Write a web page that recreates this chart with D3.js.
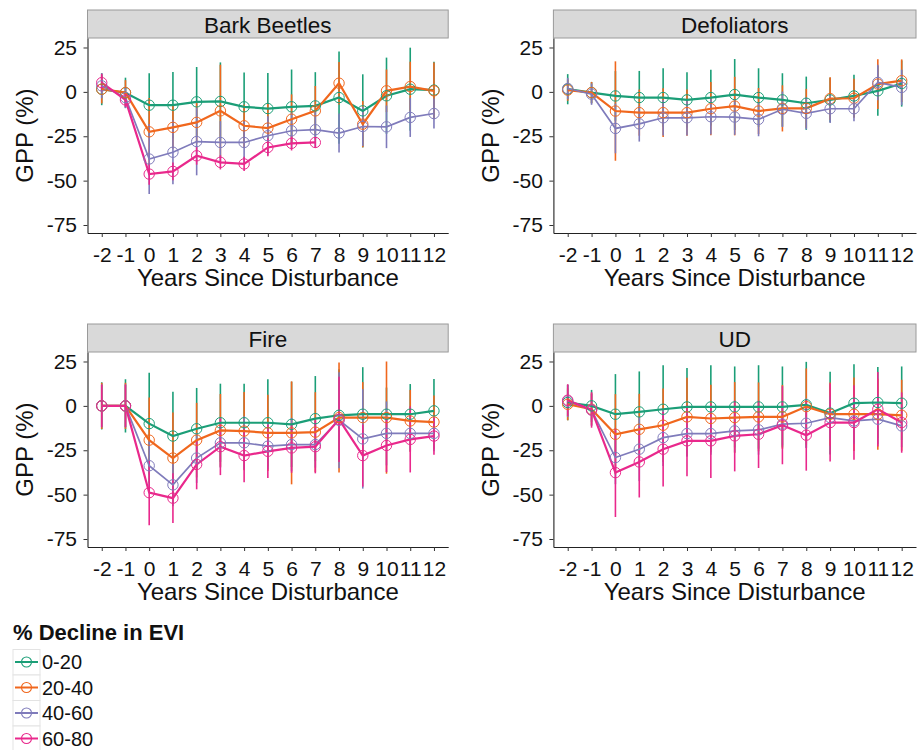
<!DOCTYPE html>
<html>
<head>
<meta charset="utf-8">
<script src="https://cdn.jsdelivr.net/npm/d3@7"></script>
<style>
  body { margin: 0; background: #fff; }
  svg { display: block; font-family: "Liberation Sans", Arial, sans-serif; }
</style>
</head>
<body>
<svg id="chart" width="923" height="750"></svg>
<script>
// ---------- data ----------
const years = [-2, -1, 0, 1, 2, 3, 4, 5, 6, 7, 8, 9, 10, 11, 12];
const yTicks = [25, 0, -25, -50, -75];
const classes = ["0-20", "20-40", "40-60", "60-80"];
const colors = ["#1b9e77", "#f0671d", "#7f7bbb", "#e9288c"];
const panelNames = ["Bark Beetles", "Defoliators", "Fire", "UD"];

// Bark Beetles
const bb_0_20 = [1.5, -0.5, -7.5, -7.5, -5.6, -5.4, -8.4, -9.4, -8.4, -7.9, -3.2, -10.7, -2.2, 1.5, 1];
const bb_0_20_err = [9, 8.5, 18, 18.7, 19.6, 22, 19.3, 20, 21, 19, 26, 20.6, 21.5, 23.4, 16];
const bb_20_40 = [1.5, -0.4, -22.5, -20, -17.2, -10.7, -19.1, -20.4, -15.4, -10.7, 4.9, -18.2, 0.6, 3, 0.6];
const bb_20_40_err = [8, 7, 19, 12, 12, 26, 12, 14, 14, 14, 12, 13, 12, 14, 16];
const bb_40_60 = [3.4, -3.2, -37.8, -34, -28, -28.5, -28.5, -24.7, -21.9, -21.3, -23.2, -19.5, -19.7, -14.4, -12.2];
const bb_40_60_err = [7, 6, 19.7, 18, 19, 12, 12, 11, 10, 10, 11, 11, 12, 11, 8.5];
const bb_60_80 = [5.2, -4.5, -46.3, -44.8, -36, -39.7, -40.6, -31.3, -29, -28.5, null, null, null, null, null];
const bb_60_80_err = [5, 4, 6, 5, 5, 4, 4, 5, 4, 3, null, null, null, null, null];

// Defoliators
const df_0_20 = [1.5, -0.4, -2.3, -3.2, -3.2, -4.5, -3.2, -1.5, -3.2, -4.5, -6.4, -4.5, -2.3, 0.6, 4.7];
const df_0_20_err = [8.5, 6, 14, 15, 16.5, 15.5, 15.7, 20, 16.5, 15, 15, 12.5, 12, 14, 13];
const df_20_40 = [1, -0.4, -10.8, -11.7, -11.7, -11.7, -9.5, -8, -10.8, -9.3, -9.3, -3.8, -3.6, 4.4, 6.3];
const df_20_40_err = [6, 6, 28, 13, 13.7, 13, 15, 16.5, 13, 13, 11, 12, 11, 14, 12];
const df_40_60 = [1.9, -1.3, -20.6, -18, -14.6, -14.6, -14, -14.2, -15.5, -9.8, -12.1, -9.5, -9.5, 5.3, 2.5];
const df_40_60_err = [6, 6, 14, 10, 10, 10, 10, 10, 9.5, 10, 9, 8, 7, 10, 10];

// Fire
const fi_0_20 = [0, 0, -10, -17, -12.9, -9.5, -9.5, -9.5, -10.4, -7.2, -5.3, -4.7, -4.7, -4.7, -2.8];
const fi_0_20_err = [13.3, 15, 28.6, 25, 23, 22, 22, 24.5, 24, 24, 26, 26.5, 15, 17, 18];
const fi_20_40 = [0, 0, -19.3, -29.4, -19.3, -13.8, -14.2, -15.2, -15.2, -14.8, -6.6, -6.6, -6.6, -8.5, -9.1];
const fi_20_40_err = [13, 13, 24, 25.6, 21, 20.5, 22, 21.5, 29, 22.5, 31, 20, 31.6, 17.5, 15];
const fi_40_60 = [0, 0, -33.7, -44.5, -29.4, -20.8, -20.8, -22.7, -21.8, -21.8, -8.1, -18.6, -15.5, -15.5, -15.5];
const fi_40_60_err = [12, 12, 14, 12, 14, 14, 15, 13, 15, 13, 27, 28, 18, 10, 10];
const fi_60_80 = [0, 0, -48.9, -52, -33, -23, -28, -25.6, -23.7, -23, -7.6, -28, -22.3, -18.9, -17];
const fi_60_80_err = [12, 12, 18.3, 14, 14, 16, 15, 15, 14, 15, 24, 17.5, 15, 18.6, 10.5];

// UD
const ud_0_20 = [1.9, 0, -4.7, -3.4, -1.9, -0.6, -0.6, -0.6, -0.6, -0.6, 0.6, -4.1, 1.5, 1.9, 1.5];
const ud_0_20_err = [10, 9, 22.6, 22.8, 24.8, 22, 23.5, 22.8, 23.5, 22.8, 24.2, 23.3, 22, 20, 20.7];
const ud_20_40 = [0.9, -1.9, -16, -13.2, -10.9, -6.2, -7.1, -6.6, -6.2, -6.2, -0.4, -4.7, -4.7, -4.7, -5.3];
const ud_20_40_err = [9, 9, 22.6, 20, 20.7, 22, 19, 20, 19.4, 18, 21.5, 17.8, 20.7, 20, 20];
const ud_40_60 = [2.8, -2.3, -29.1, -24.4, -17.9, -15.6, -15.6, -14.1, -13.5, -10.3, -9.8, -6.6, -8.5, -7.5, -11.3];
const ud_40_60_err = [9, 9, 15, 18, 16, 13, 12, 12, 14, 12, 14, 12, 13, 14, 12];
const ud_60_80 = [3.2, -2.3, -37.6, -31.6, -24.4, -19.7, -19.7, -16.9, -16, -10.9, -16.5, -9.4, -9.4, -1.9, -9.4];
const ud_60_80_err = [9, 10, 25, 20, 21, 20, 21, 20, 19, 22, 20, 22, 21, 21, 17];

const panelSeries = [
  [[bb_0_20, bb_0_20_err], [bb_20_40, bb_20_40_err], [bb_40_60, bb_40_60_err], [bb_60_80, bb_60_80_err]],
  [[df_0_20, df_0_20_err], [df_20_40, df_20_40_err], [df_40_60, df_40_60_err], null],
  [[fi_0_20, fi_0_20_err], [fi_20_40, fi_20_40_err], [fi_40_60, fi_40_60_err], [fi_60_80, fi_60_80_err]],
  [[ud_0_20, ud_0_20_err], [ud_20_40, ud_20_40_err], [ud_40_60, ud_40_60_err], [ud_60_80, ud_60_80_err]]
];

// ---------- layout ----------
const svg = d3.select("#chart");
const colX = [[87.5, 448.2], [553.4, 916]];
const rowY = [[38, 233], [352, 547]];
const stripH = 28;
const textColor = "#111";
const fmt = d => String(d); // plain hyphen-minus as in the original

panelNames.forEach((name, pi) => {
  const col = pi % 2, row = Math.floor(pi / 2);
  const [x0, x1] = colX[col];
  const [y0, y1] = rowY[row];
  const x = d3.scaleLinear().domain([-2.6, 12.6]).range([x0, x1]);
  const y = d3.scaleLinear().domain([-79.5, 30.35]).range([y1, y0]);
  const g = svg.append("g");

  // strip
  g.append("rect").attr("x", x0).attr("y", y0 - stripH).attr("width", x1 - x0).attr("height", stripH)
    .attr("fill", "#d9d9d9").attr("stroke", "#9a9a9a").attr("stroke-width", 1);
  g.append("text").attr("x", (x0 + x1) / 2).attr("y", y0 - 5).attr("text-anchor", "middle")
    .attr("font-size", "22.5px").attr("fill", textColor).text(name);

  // axes
  const ax = g.append("g").attr("transform", `translate(0,${y1})`)
    .call(d3.axisBottom(x).tickValues(years).tickFormat(fmt).tickSize(4).tickPadding(10).tickSizeOuter(0));
  const ay = g.append("g").attr("transform", `translate(${x0},0)`)
    .call(d3.axisLeft(y).tickValues(yTicks).tickFormat(fmt).tickSize(4).tickPadding(6.5).tickSizeOuter(0));
  [ax, ay].forEach(a => {
    a.selectAll("text").attr("font-size", "21px").attr("fill", textColor).attr("font-family", "Liberation Sans, Arial, sans-serif");
    a.selectAll("line").attr("stroke", "#333");
    a.select(".domain").attr("stroke", "#222").attr("stroke-width", 1.1);
  });

  // axis titles
  g.append("text").attr("x", (x0 + x1) / 2).attr("y", y1 + 53).attr("text-anchor", "middle")
    .attr("font-size", "24px").attr("fill", textColor).text("Years Since Disturbance");
  g.append("text").attr("transform", `translate(${x0 - 54.5},${(y0 + y1) / 2}) rotate(-90)`)
    .attr("text-anchor", "middle").attr("font-size", "24px").attr("fill", textColor).text("GPP (%)");

  const series = panelSeries[pi];
  // error bars
  series.forEach((s, si) => {
    if (!s) return;
    const [m, e] = s;
    years.forEach((yr, i) => {
      if (m[i] == null) return;
      g.append("line").attr("x1", x(yr)).attr("x2", x(yr))
        .attr("y1", y(m[i] + e[i])).attr("y2", y(m[i] - e[i]))
        .attr("stroke", colors[si]).attr("stroke-width", 1.6);
    });
  });
  // lines
  series.forEach((s, si) => {
    if (!s) return;
    const [m] = s;
    const pts = years.map((yr, i) => [yr, m[i]]).filter(d => d[1] != null);
    g.append("path").datum(pts)
      .attr("d", d3.line().x(d => x(d[0])).y(d => y(d[1])))
      .attr("fill", "none").attr("stroke", colors[si]).attr("stroke-width", si === 2 ? 1.7 : 2.2);
  });
  // points
  series.forEach((s, si) => {
    if (!s) return;
    const [m] = s;
    years.forEach((yr, i) => {
      if (m[i] == null) return;
      g.append("circle").attr("cx", x(yr)).attr("cy", y(m[i])).attr("r", 5.2)
        .attr("fill", "none").attr("stroke", colors[si]).attr("stroke-width", 1);
    });
  });
});

// ---------- legend ----------
const lg = svg.append("g");
lg.append("text").attr("x", 13).attr("y", 640).attr("font-size", "22px").attr("font-weight", "bold")
  .attr("fill", textColor).text("% Decline in EVI");
classes.forEach((c, i) => {
  const cy = 662 + i * 25.5;
  lg.append("rect").attr("x", 13).attr("y", cy - 12.5).attr("width", 27).attr("height", 25.5)
    .attr("fill", "#fff").attr("stroke", "#e3e3e3").attr("stroke-width", 1);
  lg.append("line").attr("x1", 15).attr("x2", 38).attr("y1", cy).attr("y2", cy)
    .attr("stroke", colors[i]).attr("stroke-width", 2);
  lg.append("circle").attr("cx", 26.5).attr("cy", cy).attr("r", 5)
    .attr("fill", "none").attr("stroke", colors[i]).attr("stroke-width", 1.1);
  lg.append("text").attr("x", 42).attr("y", cy + 7).attr("font-size", "20px").attr("fill", textColor).text(c);
});
</script>
</body>
</html>
